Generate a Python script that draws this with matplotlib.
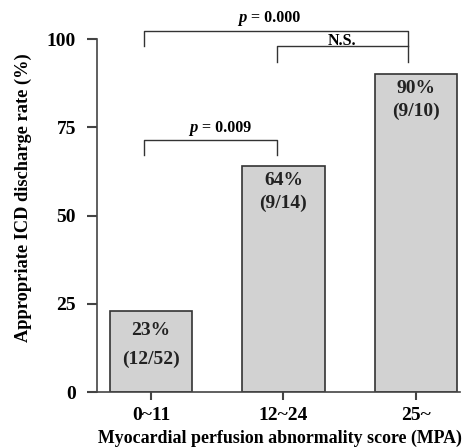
import matplotlib
matplotlib.use("Agg")
import matplotlib.pyplot as plt

# data
groups = ["0~11", "12~24", "25~"]
rates = [23, 64, 90]
counts = ["(12/52)", "(9/14)", "(9/10)"]
yticks = [0, 25, 50, 75, 100]

plt.rcParams["font.family"] = ["Liberation Serif", "DejaVu Serif"]
plt.rcParams["font.weight"] = "bold"

fig = plt.figure(figsize=(4.65, 4.48), dpi=100)
ax = fig.add_axes([0.2086, 0.125, 0.78, 0.8667])

x = list(range(len(groups)))
ax.bar(x, rates, width=0.62, color="#d2d2d2", edgecolor="#333333", linewidth=1.2, zorder=2)

# first bar's label sits a little lower in the original
drop = [1.6, 0, 0]
for xi, r, c, d in zip(x, rates, counts, drop):
    ax.text(xi, r - 4.0 - d, f"{r}%", ha="center", va="center", fontsize=14,
            fontweight="bold", color="#222222")
    ax.text(xi, r - 10.6 - 2 * d, c, ha="center", va="center", fontsize=14,
            fontweight="bold", color="#222222")

ax.set_xlim(-0.407, 2.33)
ax.set_ylim(0, 110)
ax.set_yticks(yticks)
ax.set_xticks(x)
ax.set_xticklabels(groups)

for s in ["top", "right"]:
    ax.spines[s].set_visible(False)
ax.spines["left"].set_bounds(0, 100)
for s in ["left", "bottom"]:
    ax.spines[s].set_linewidth(1.2)
    ax.spines[s].set_color("#444444")

ax.tick_params(axis="y", length=7, width=1.5, pad=8, labelsize=14, color="#444444")
ax.tick_params(axis="x", length=6, width=1.5, pad=5, labelsize=14, color="#444444")

ax.set_xlabel("Myocardial perfusion abnormality score (MPA)", fontsize=12.9, fontweight="bold", labelpad=4)
ax.set_ylabel("Appropriate ICD discharge rate (%)", fontsize=13.2, fontweight="bold", labelpad=11)
ax.xaxis.label.set_x(0.505)

lc = "#333333"

# p = 0.000 over groups 1 and 3
ax.plot([-0.05, -0.05, 1.94, 1.94], [98, 102.3, 102.3, 93.5], color=lc, lw=1.0, clip_on=False)
ax.text(0.72, 106, "p", ha="right", va="center", fontsize=12, style="italic", fontweight="bold")
ax.text(0.755, 106, "= 0.000", ha="left", va="center", fontsize=11.5, fontweight="bold")

# N.S. between groups 2 and 3
ax.plot([0.95, 0.95, 1.94], [93.5, 98, 98], color=lc, lw=1.0, clip_on=False)
ax.text(1.445, 99.4, "N.S.", ha="center", va="center", fontsize=11.5, fontweight="bold")

# p = 0.009 between groups 1 and 2
ax.plot([-0.05, -0.05, 0.95, 0.95], [67.1, 71.4, 71.4, 67.1], color=lc, lw=1.0, clip_on=False)
ax.text(0.35, 74.8, "p", ha="right", va="center", fontsize=12, style="italic", fontweight="bold")
ax.text(0.385, 74.8, "= 0.009", ha="left", va="center", fontsize=11.5, fontweight="bold")

fig.savefig("out.png", dpi=100)
